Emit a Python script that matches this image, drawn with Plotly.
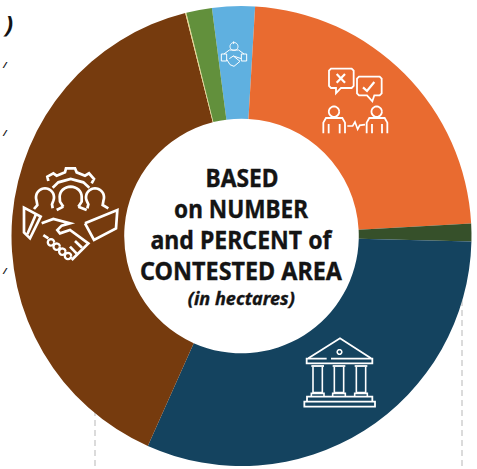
import math
import plotly.graph_objects as go

W, H = 477, 469
categories = ["Community rights", "Negotiated", "Unresolved", "Government", "Private and community", "Other", "Mixed"]
shares = [3.0, 23.2, 1.25, 31.3, 39.4, 0.08, 1.8]
colors = ["#5fb0e0", "#e96b30", "#36502a", "#14435f", "#763b0e", "#ecd98a", "#62903c"]
title_lines = ["BASED", "on NUMBER", "and PERCENT of", "CONTESTED AREA"]
subtitle = "(in hectares)"

CX, CY, R = 241.5, 236, 230


def px(x):
    return x / W


def py(y):
    return 1 - y / H


def path(points, closed=False):
    s = "M " + " L ".join(f"{px(x):.5f},{py(y):.5f}" for x, y in points)
    return s + (" Z" if closed else "")


def arc(cx, cy, rx, ry, a0, a1, n=24):
    return [(cx + rx * math.cos(math.radians(a0 + (a1 - a0) * i / n)),
             cy + ry * math.sin(math.radians(a0 + (a1 - a0) * i / n))) for i in range(n + 1)]


def circle(cx, cy, r):
    return arc(cx, cy, r, r, 0, 360, 30)


def crop(ox, oy, pts):
    return [(ox + x / 3, oy + y / 3) for x, y in pts]


shapes = []


def line(points, width=2.0, color="white", closed=False):
    shapes.append(dict(type="path", xref="paper", yref="paper", path=path(points, closed),
                       line=dict(color=color, width=width), fillcolor="rgba(0,0,0,0)"))


# dashed leader lines behind the ring
for x in (95, 462):
    shapes.append(dict(type="line", xref="paper", yref="paper", layer="below",
                       x0=px(x), x1=px(x), y0=py(290), y1=py(469),
                       line=dict(color="#cfcfcf", width=1.5, dash="6px,4px")))

# --- bank icon
bx, by = 295, 330
line(crop(bx, by, [(40, 85), (135, 25), (228, 85)]), 1.8)
line(crop(bx, by, [(108, 86), (232, 86), (232, 100), (35, 100), (35, 86), (95, 86)]), 1.8)
line(circle(339.5, 352, 2.3), 1.5)
for c in (68, 132, 198):
    line(crop(bx, by, [(c - 19, 108), (c + 19, 108)]), 1.8)
    line(crop(bx, by, [(c - 14, 110), (c - 14, 188), (c + 14, 188), (c + 14, 110)]), 1.6)
    line(crop(bx, by, [(c - 19, 198), (c - 19, 190), (c + 19, 190), (c + 19, 198)]), 1.6)
line(crop(bx, by, [(36, 215), (36, 200), (232, 200), (232, 215)]), 1.8)
line(crop(bx, by, [(28, 215), (240, 215), (240, 230), (28, 230)]), 1.8, closed=True)

# --- dialogue icon
ox, oy = 315, 60
line(crop(ox, oy, [(48, 26), (110, 26), (116, 32), (116, 78), (110, 84), (78, 84), (63, 100),
                   (63, 84), (48, 84), (42, 78), (42, 32)]), 1.8, closed=True)
line(crop(ox, oy, [(65, 42), (90, 68)]), 2.2)
line(crop(ox, oy, [(90, 42), (65, 68)]), 2.2)
line(crop(ox, oy, [(132, 50), (194, 50), (200, 56), (200, 100), (194, 106), (178, 106), (172, 124),
                   (156, 106), (132, 106), (126, 100), (126, 56)]), 1.8, closed=True)
line(crop(ox, oy, [(144, 82), (156, 93), (178, 66)]), 2.2)
for hx, l, r in ((57, 25, 90), (185, 155, 217)):
    line(circle(ox + hx / 3, oy + 155 / 3, 5.2), 1.8)
    line(crop(ox, oy, [(l, 220), (l, 188), (l + 8, 174), (r - 8, 174), (r, 188), (r, 220)]), 1.8)
    line(crop(ox, oy, [(l + 16, 192), (l + 16, 220)]), 1.8)
    line(crop(ox, oy, [(r - 16, 192), (r - 16, 220)]), 1.8)
line(crop(ox, oy, [(97, 198), (113, 198), (120, 186), (128, 208), (134, 196), (150, 194)]), 1.6)

# --- small handshake icon
sx, sy = 180, 0
line(crop(sx, sy, [(124, 162), (124, 183), (140, 183), (140, 162)]), 1, closed=True)
line(crop(sx, sy, [(184, 162), (184, 183), (200, 183), (200, 162)]), 1, closed=True)
line(crop(sx, sy, [(132, 162), (148, 150), (176, 150), (192, 162)]), 1)
line(circle(234, 46.5, 4), 1)
line(crop(sx, sy, [(161, 124), (161, 132)]), 1)
line(crop(sx, sy, [(140, 178), (150, 194), (162, 199), (180, 184), (160, 168), (148, 176)]), 1)
line(crop(sx, sy, [(160, 168), (184, 176)]), 1)

# --- people and handshake icon
W3 = 2.7
ax, ay = 30, 165   # gear and heads
line(crop(ax, ay, [(55, 48), (52, 35), (70, 25), (80, 32), (105, 22), (108, 10), (135, 10), (140, 22),
                   (165, 32), (177, 25), (192, 42), (185, 55)]), W3)
line(crop(ax, ay, [(68, 68), (85, 52), (122, 42), (160, 52), (178, 68)]), W3)
line(crop(ax, ay, [(100, 125), (90, 110)]) + arc(ax + 122 / 3, ay + 95 / 3, 11, 10, 180, 360, 16)
     + crop(ax, ay, [(155, 110), (145, 125)]), W3)
line(crop(ax, ay, [(100, 125), (80, 135)]), W3)
line(crop(ax, ay, [(145, 125), (170, 135)]), W3)
line(crop(ax, ay, [(68, 130), (66, 118)]) + arc(ax + 45 / 3, ay + 97 / 3, 9, 9, 20, -200, 20)
     + crop(ax, ay, [(22, 120), (12, 132)]), W3)
line(crop(ax, ay, [(172, 130), (175, 118)]) + arc(ax + 195 / 3, ay + 97 / 3, 9, 9, 160, 380, 20)
     + crop(ax, ay, [(218, 120), (235, 130)]), W3)
hx, hy = 20, 205   # cuffs and hands
line(crop(hx, hy, [(12, 8), (62, 35), (30, 100), (12, 82)]), W3, closed=True)
line(crop(hx, hy, [(48, 28), (22, 88)]), W3)
line(crop(hx, hy, [(65, 55), (100, 42), (150, 55), (125, 62), (112, 75), (120, 85), (150, 75), (205, 115),
                   (170, 150), (155, 165)]), W3)
line(crop(hx, hy, [(70, 90), (85, 100)]), W3)
line(crop(hx, hy, [(165, 108), (186, 128)]), W3)
line(crop(hx, hy, [(150, 125), (170, 146)]), W3)
for fx, fy in ((93, 112), (110, 125), (127, 140), (144, 153)):
    line(arc(hx + fx / 3, hy + fy / 3, 3.2, 3.2, 0, 360, 16), 2.3)
line(crop(10, 160, [(225, 190), (322, 150), (318, 205), (252, 240), (225, 190)]), W3)

FONT = "Noto Sans, sans-serif"
INK = "#141414"
annotations = []
for text, y in zip(title_lines, (177, 208, 239, 270)):
    annotations.append(dict(text=f"<b>{text}</b>", x=px(242), y=py(y), xref="paper", yref="paper",
                            showarrow=False, xanchor="center", yanchor="middle",
                            font=dict(family=FONT, size=25, color=INK)))
annotations.append(dict(text=f"<b><i>{subtitle}</i></b>", x=px(242), y=py(298), xref="paper", yref="paper",
                        showarrow=False, xanchor="center", yanchor="middle",
                        font=dict(family=FONT, size=18, color=INK)))
# fragments of neighbouring text at the left edge
annotations.append(dict(text="<b><i>)</i></b>", x=px(1), y=py(24), xref="paper", yref="paper",
                        showarrow=False, xanchor="left", yanchor="middle",
                        font=dict(family=FONT, size=24, color=INK)))
for y in (64, 132, 270):
    annotations.append(dict(text="<b><i>/</i></b>", x=0, y=py(y), xref="paper", yref="paper",
                            showarrow=False, xanchor="left", yanchor="middle",
                            font=dict(family=FONT, size=9, color=INK)))

fig = go.Figure(go.Pie(
    labels=categories, values=shares, sort=False, direction="clockwise", rotation=-7.4,
    hole=0.51, textinfo="none", hoverinfo="skip", showlegend=False,
    marker=dict(colors=colors, line=dict(width=0)),
    domain=dict(x=[(CX - R) / W, (CX + R) / W], y=[1 - (CY + R) / H, 1 - (CY - R) / H]),
))
fig.update_layout(width=W, height=H, margin=dict(l=0, r=0, t=0, b=0),
                  paper_bgcolor="white", plot_bgcolor="white",
                  shapes=shapes, annotations=annotations)

# page margin off; the reference's condensed face is matched by fitting each line to its measured width
post = """
document.body.style.margin = '0';
var fit = {'BASED':73,'on NUMBER':134,'and PERCENT of':181,'CONTESTED AREA':202,'(in hectares)':107};
document.querySelectorAll('text.annotation-text').forEach(function(t){
  var w = fit[t.textContent];
  if (w) {
    t.setAttribute('textLength', w); t.setAttribute('lengthAdjust', 'spacingAndGlyphs');
    t.style.stroke = '#141414'; t.style.strokeWidth = '0.35px';
  }
});
"""
fig.write_html("out.html", config=dict(displayModeBar=False), post_script=post)
